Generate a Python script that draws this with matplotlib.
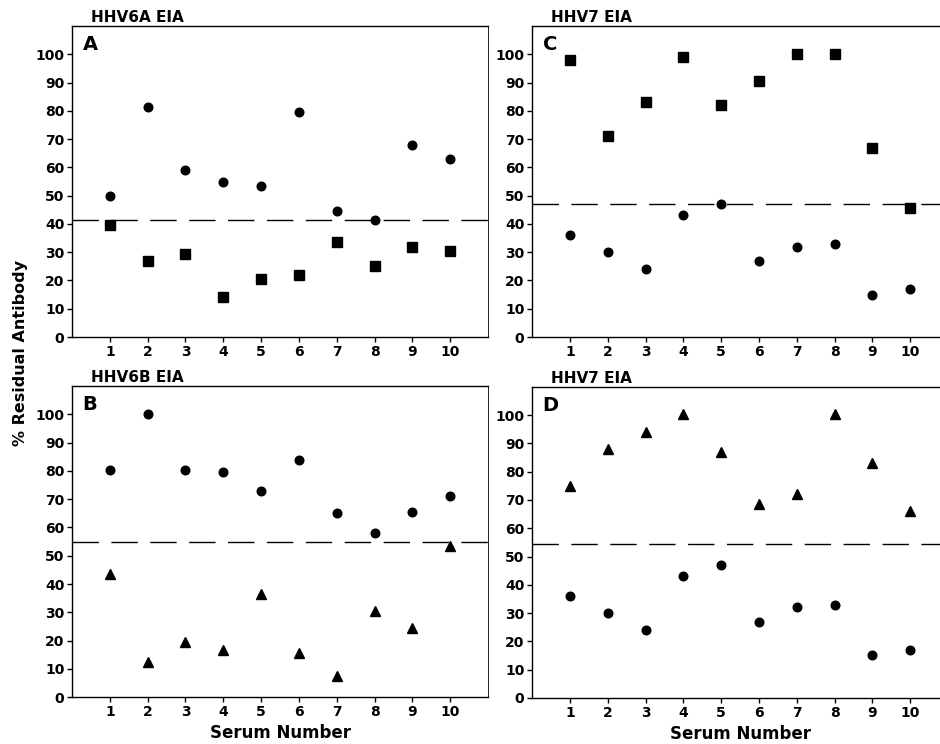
import numpy as np
import matplotlib.pyplot as plt

plt.rcParams['font.family'] = 'DejaVu Sans'
plt.rcParams['font.weight'] = 'bold'

serum = np.arange(1, 11)

# Panel A: HHV6A EIA
a_circles = [50, 81.5, 59, 55, 53.5, 79.5, 44.5, 41.5, 68, 63]
a_squares = [39.5, 27, 29.5, 14, 20.5, 22, 33.5, 25, 32, 30.5]
a_cutoff = 41.5

# Panel B: HHV6B EIA
b_circles = [80.5, 100, 80.5, 79.5, 73, 84, 65, 58, 65.5, 71]
b_triangles = [43.5, 12.5, 19.5, 16.5, 36.5, 15.5, 7.5, 30.5, 24.5, 53.5]
b_cutoff = 55

# Panel C: HHV7 EIA
c_squares = [98, 71, 83, 99, 82, 90.5, 100, 100, 67, 45.5]
c_circles = [36, 30, 24, 43, 47, 27, 32, 33, 15, 17]
c_cutoff = 47

# Panel D: HHV7 EIA
d_triangles = [75, 88, 94, 100.5, 87, 68.5, 72, 100.5, 83, 66]
d_circles = [36, 30, 24, 43, 47, 27, 32, 33, 15, 17]
d_cutoff = 54.6

fig = plt.figure(figsize=(9.4, 7.44), dpi=100)

w = 0.4426
h = 0.418
axA = fig.add_axes([0.0766, 0.547, w, h])
axC = fig.add_axes([0.566, 0.547, w, h])
axB = fig.add_axes([0.0766, 0.063, w, h])
axD = fig.add_axes([0.566, 0.062, w, h])

panels = [
    (axA, 'HHV6A EIA', 'A', [(a_circles, 'o', 6.2), (a_squares, 's', 7.5)], a_cutoff),
    (axC, 'HHV7 EIA', 'C', [(c_squares, 's', 7.5), (c_circles, 'o', 6.2)], c_cutoff),
    (axB, 'HHV6B EIA', 'B', [(b_circles, 'o', 6.2), (b_triangles, '^', 6.5)], b_cutoff),
    (axD, 'HHV7 EIA', 'D', [(d_triangles, '^', 6.5), (d_circles, 'o', 6.2)], d_cutoff),
]

for ax, title, letter, series, cutoff in panels:
    for vals, m, ms in series:
        ax.plot(serum, vals, linestyle='none', marker=m, markersize=ms,
                color='black', clip_on=False)
    ax.axhline(cutoff, color='black', linewidth=1.0, dashes=(19, 9))
    ax.set_xlim(0, 11)
    ax.set_ylim(0, 110)
    ax.set_xticks(serum)
    ax.set_yticks(np.arange(0, 101, 10))
    ax.tick_params(axis='both', direction='out', length=3.5, width=1,
                   labelsize=10, pad=2)
    for lab in ax.get_xticklabels() + ax.get_yticklabels():
        lab.set_fontweight('bold')
    for s in ax.spines.values():
        s.set_linewidth(1.0)
    ax.spines['right'].set_linewidth(0.6)
    ax.text(0.045, 1.004, title, transform=ax.transAxes, fontsize=11,
            fontweight='bold', va='bottom', ha='left')
    ax.text(0.28, 103.5, letter, fontsize=14, fontweight='bold',
            va='center', ha='left')

axB.set_xlabel('Serum Number', fontsize=12, fontweight='bold', labelpad=4)
axD.set_xlabel('Serum Number', fontsize=12, fontweight='bold', labelpad=4)

fig.text(0.022, 0.525, '% Residual Antibody', rotation=90, fontsize=11.5,
         fontweight='bold', ha='center', va='center')

fig.savefig('out.png', dpi=100)
